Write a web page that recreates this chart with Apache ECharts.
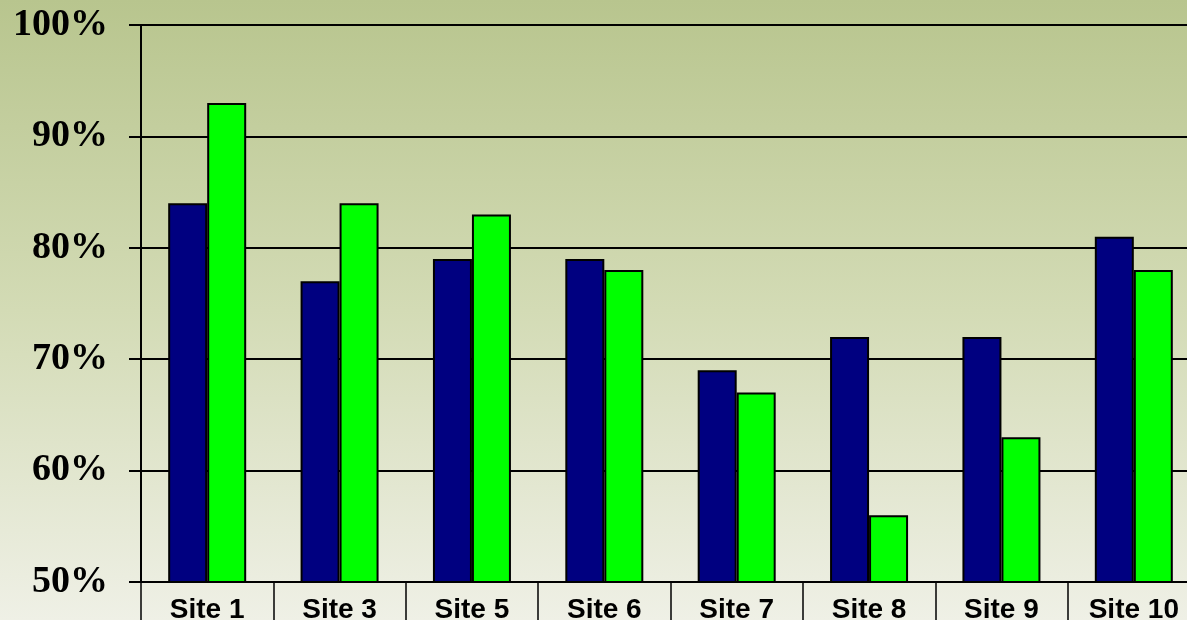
<!DOCTYPE html>
<html>
<head>
<meta charset="utf-8">
<script src="https://cdn.jsdelivr.net/npm/echarts@6/dist/echarts.min.js"></script>
<style>
html,body{margin:0;padding:0;}
#chart{width:1187px;height:620px;background:linear-gradient(to bottom,#b8c58e 0%,#d3dbb5 50%,#eff0e6 100%);}
</style>
</head>
<body>
<div id="chart"></div>
<script>
const categories = ['Site 1','Site 3','Site 5','Site 6','Site 7','Site 8','Site 9','Site 10'];
const seriesA = [84, 77, 79, 79, 69, 72, 72, 81];
const seriesB = [93, 84, 83, 78, 67, 56, 63, 78];
const yMin = 50, yMax = 100, yInterval = 10;

const chart = echarts.init(document.getElementById('chart'), null, {renderer:'canvas'});
chart.setOption({
  animation: false,
  backgroundColor: 'transparent',
  grid: {left: 141, top: 25, width: 1059, bottom: 38, containLabel: false, outerBoundsMode: 'none'},
  xAxis: {
    type: 'category',
    data: categories,
    boundaryGap: true,
    axisLine: {show: true, lineStyle: {color: '#000', width: 2}},
    axisTick: {show: true, length: 42, interval: 0, lineStyle: {color: '#000', width: 1.5}},
    axisLabel: {interval: 0, margin: 14, color: '#000', fontFamily: '"Liberation Sans", Arial, sans-serif', fontWeight: 'bold', fontSize: 28},
    splitLine: {show: false}
  },
  yAxis: {
    type: 'value',
    min: yMin, max: yMax, interval: yInterval,
    axisLine: {show: true, lineStyle: {color: '#000', width: 2}},
    axisTick: {show: true, length: 12, lineStyle: {color: '#000', width: 2}},
    axisLabel: {margin: 33, color: '#000', fontFamily: '"Liberation Serif", "Times New Roman", serif', fontWeight: 'bold', fontSize: 38, formatter: '{value}%'},
    splitLine: {show: true, lineStyle: {color: '#000', width: 2}}
  },
  series: [
    {type: 'bar', data: seriesA, barWidth: 39, barGap: '0%',
     itemStyle: {color: '#000080', borderColor: '#000', borderWidth: 2}},
    {type: 'bar', data: seriesB, barWidth: 39, barGap: '0%',
     itemStyle: {color: '#00ff00', borderColor: '#000', borderWidth: 2}}
  ]
});
</script>
</body>
</html>
